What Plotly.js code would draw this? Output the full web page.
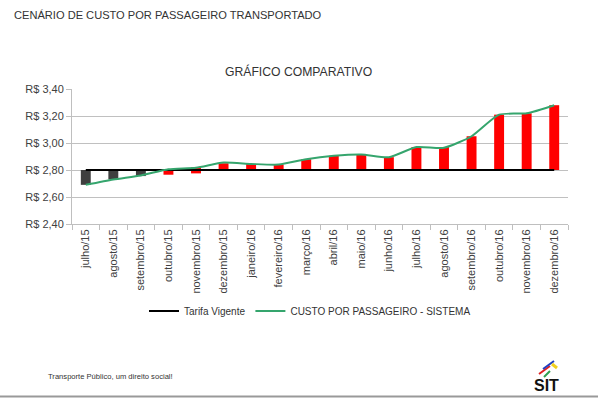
<!DOCTYPE html>
<html>
<head>
<meta charset="utf-8">
<script src="https://cdn.plot.ly/plotly-3.0.1.min.js"></script>
<style>
html,body{margin:0;padding:0;background:#fff;}
#chart{width:598px;height:399px;}
</style>
</head>
<body>
<div id="chart"></div>
<script>
// ---- data ----
const months = ["julho/15","agosto/15","setembro/15","outubro/15","novembro/15","dezembro/15",
  "janeiro/16","fevereiro/16","março/16","abril/16","maio/16","junho/16",
  "julho/16","agosto/16","setembro/16","outubro/16","novembro/16","dezembro/16"];
const tarifa = [2.80,2.80,2.80,2.80,2.80,2.80,2.80,2.80,2.80,2.80,2.80,2.80,2.80,2.80,2.80,2.80,2.80,2.80];
const custo = [2.69,2.73,2.76,2.805,2.817,2.855,2.845,2.84,2.88,2.905,2.915,2.895,2.97,2.965,3.05,3.21,3.22,3.28];
const barBottom = [2.69,2.73,2.755,2.765,2.775,2.805,2.80,2.80,2.80,2.80,2.80,2.80,2.80,2.80,2.80,2.80,2.80,2.80];
const barTop = [2.80,2.80,2.80,2.80,2.82,2.85,2.845,2.84,2.88,2.905,2.915,2.895,2.97,2.97,3.05,3.21,3.22,3.28];
const yTickVals = [2.40,2.60,2.80,3.00,3.20,3.40];
const yTickText = ["R$ 2,40","R$ 2,60","R$ 2,80","R$ 3,00","R$ 3,20","R$ 3,40"];

// ---- layout helpers (pixel -> paper) ----
const L = 72, R = 568, T = 89, B = 224;
const px = x => (x - L) / (R - L);
const py = y => (B - y) / (B - T);

const font = "Liberation Sans, Arial, sans-serif";
const barColors = custo.map((c, i) => c < tarifa[i] ? "#3f3f3f" : "#ff0000");

const traces = [
  {
    type: "bar", x: months, y: barTop.map((t, i) => t - barBottom[i]), base: barBottom,
    marker: {color: barColors, line: {width: 0}}, width: 0.36,
    showlegend: false, hoverinfo: "skip"
  },
  {
    type: "scatter", mode: "lines", x: months, y: tarifa, name: "Tarifa Vigente",
    line: {color: "#000000", width: 2}
  },
  {
    type: "scatter", mode: "lines", x: months, y: custo, name: "CUSTO POR PASSAGEIRO - SISTEMA",
    line: {color: "#35a56d", width: 2, shape: "spline", smoothing: 0.6}
  }
];

const layout = {
  width: 598, height: 399,
  margin: {l: L, r: 598 - R, t: T, b: 399 - B},
  paper_bgcolor: "#ffffff", plot_bgcolor: "#ffffff",
  font: {family: font, color: "#404040", size: 11},
  showlegend: true,
  legend: {
    orientation: "h", x: px(310), xanchor: "center", y: py(311), yanchor: "middle",
    font: {family: font, size: 10, color: "#333"}, itemwidth: 30, tracegroupgap: 0,
    bgcolor: "rgba(0,0,0,0)"
  },
  xaxis: {
    type: "category", tickangle: -90, showgrid: false, zeroline: false,
    showline: true, linecolor: "#bfbfbf", linewidth: 1,
    ticks: "outside", tickson: "boundaries", ticklen: 5, tickcolor: "#bfbfbf",
    tickfont: {family: font, size: 11, color: "#404040"}, fixedrange: true
  },
  yaxis: {
    range: [2.40, 3.40], tickvals: yTickVals, ticktext: yTickText,
    showgrid: true, gridcolor: "#c0c0c0", gridwidth: 1, zeroline: false,
    showline: true, linecolor: "#bfbfbf", ticks: "outside", ticklen: 5, tickcolor: "#bfbfbf",
    tickfont: {family: font, size: 11, color: "#404040"}, fixedrange: true
  },
  bargap: 0.64,
  annotations: [
    {xref: "paper", yref: "paper", x: px(12), y: py(15), xanchor: "left", yanchor: "middle",
     text: "CENÁRIO DE CUSTO POR PASSAGEIRO TRANSPORTADO", showarrow: false,
     font: {family: font, size: 11.1, color: "#333"}},
    {xref: "paper", yref: "paper", x: px(298), y: py(71), xanchor: "center", yanchor: "middle",
     text: "GRÁFICO COMPARATIVO", showarrow: false,
     font: {family: font, size: 12.2, color: "#333"}},
    {xref: "paper", yref: "paper", x: px(46), y: py(376), xanchor: "left", yanchor: "middle",
     text: "Transporte Público, um direito social!", showarrow: false,
     font: {family: font, size: 7.6, color: "#333"}},
    {xref: "paper", yref: "paper", x: px(546), y: py(385), xanchor: "center", yanchor: "middle",
     text: "<b>SIT</b>", showarrow: false,
     font: {family: font, size: 16, color: "#111"}}
  ],
  shapes: [
    {type: "line", xref: "paper", yref: "paper", x0: px(0), x1: px(598), y0: py(396.5), y1: py(396.5),
     line: {color: "#999", width: 2}},
    {type: "line", xref: "paper", yref: "paper", x0: px(539), x1: px(550), y0: py(374), y1: py(366),
     line: {color: "#e02020", width: 2}},
    {type: "line", xref: "paper", yref: "paper", x0: px(543), x1: px(554), y0: py(369), y1: py(361),
     line: {color: "#2040c0", width: 2}},
    {type: "line", xref: "paper", yref: "paper", x0: px(552), x1: px(557), y0: py(364), y1: py(368),
     line: {color: "#f0d020", width: 3}},
    {type: "line", xref: "paper", yref: "paper", x0: px(544), x1: px(550), y0: py(377), y1: py(371),
     line: {color: "#30a050", width: 2}}
  ]
};

Plotly.newPlot("chart", traces, layout, {displayModeBar: false, staticPlot: true});
</script>
</body>
</html>
